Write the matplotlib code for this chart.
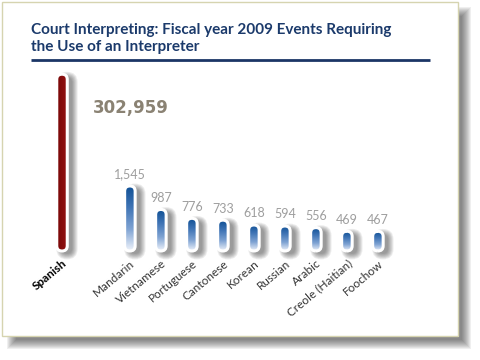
import numpy as np
import matplotlib.pyplot as plt
from matplotlib.patches import FancyBboxPatch, Rectangle
from matplotlib.colors import LinearSegmentedColormap

languages = ["Spanish", "Mandarin", "Vietnamese", "Portuguese", "Cantonese",
             "Korean", "Russian", "Arabic", "Creole (Haitian)", "Foochow"]
events = [302959, 1545, 987, 776, 733, 618, 594, 556, 469, 467]

# Spanish is way off the scale, its bar gets cut at this value
cap_value = 4200

plt.rcParams['font.family'] = ['Lato', 'DejaVu Sans']

W, H = 480, 360
fig = plt.figure(figsize=(4.8, 3.6), dpi=100)
fig.patch.set_facecolor('white')

# background layer in pixels: card, card shadow, title
bg = fig.add_axes([0, 0, 1, 1])
bg.set_xlim(0, W)
bg.set_ylim(H, 0)
bg.axis('off')

for e in range(-4, 6):
    bg.add_patch(Rectangle((12 - e, 12 - e), 454 + 2 * e, 332 + 2 * e,
                           fc='#2a2a2a', ec='none', alpha=0.075))
bg.add_patch(Rectangle((2, 2), 456, 334, fc='white', ec='#d6d4b0', lw=1))

bg.text(31, 23, "Court Interpreting: Fiscal year 2009 Events Requiring\nthe Use of an Interpreter",
        va='top', ha='left', fontsize=11, fontweight='bold', color='#1b3a6b',
        linespacing=1.3)
bg.plot([31, 430], [60, 60], color='#1b3566', lw=2, solid_capstyle='butt')

# chart axes
ax_box = [31, 70, 430, 251]  # left, top, right, bottom in px
ax = fig.add_axes([ax_box[0] / W, (H - ax_box[3]) / H,
                   (ax_box[2] - ax_box[0]) / W, (ax_box[3] - ax_box[1]) / H])
ax.patch.set_alpha(0)

gap = 2.19
xs = [0] + [gap + i for i in range(len(languages) - 1)]
shown = [min(v, cap_value) for v in events]

xlim = (-1, 11.87)
ylim = (0, 4300)
xu = (xlim[1] - xlim[0]) / (ax_box[2] - ax_box[0])   # x units per px
yu = (ylim[1] - ylim[0]) / (ax_box[3] - ax_box[1])   # y units per px
aspect = yu / xu
bw = 10.5 * xu

blue = LinearSegmentedColormap.from_list('b', ['#f0f4fb', '#7fa3d3', '#3f74b5', '#0d4e93'])
red = LinearSegmentedColormap.from_list('r', ['#7a0909', '#951212'])

for i, (x, v) in enumerate(zip(xs, shown)):
    # soft shadow to the lower right
    for k in range(7):
        g = k * 0.9
        sh = FancyBboxPatch((x - bw / 2 + (5 - g) * xu, -(3 + g) * yu),
                            bw + 2 * g * xu, v + 2 * g * yu,
                            boxstyle=f"round,pad=0,rounding_size={bw / 2 + g * xu}",
                            mutation_aspect=aspect, fc='#202020', ec='none',
                            alpha=0.08, clip_on=False, zorder=1)
        ax.add_patch(sh)

    bar = FancyBboxPatch((x - bw / 2, 0), bw, v,
                         boxstyle=f"round,pad=0,rounding_size={bw / 2}",
                         mutation_aspect=aspect, fc='none', ec='white', lw=2.2,
                         clip_on=False, zorder=4)
    ax.add_patch(bar)
    if i == 0:
        grad = np.linspace(0, 1, 64).reshape(1, -1)
        cmap = red
    else:
        grad = np.linspace(0, 1, 256).reshape(-1, 1)
        cmap = blue
    im = ax.imshow(grad, extent=[x - bw / 2, x + bw / 2, 0, v], origin='lower',
                   cmap=cmap, aspect='auto', zorder=3, interpolation='bilinear')
    im.set_clip_path(bar)

    if i == 0:
        ax.annotate(f"{events[i]:,}", (x, v), xytext=(22, -24), textcoords='offset points',
                    ha='left', va='center', fontsize=12, fontweight='bold',
                    color='#8a8273', family='DejaVu Sans')
    else:
        ax.annotate(f"{events[i]:,}", (x, v), xytext=(0, 4), textcoords='offset points',
                    ha='center', va='bottom', fontsize=9, color='#9e9e9e')

ax.set_xlim(*xlim)
ax.set_ylim(*ylim)
ax.set_xticks(xs, languages, rotation=40, ha='right', rotation_mode='anchor',
              fontsize=8.5, color='#333333')
ax.get_xticklabels()[0].set_fontweight('bold')
ax.get_xticklabels()[0].set_color('black')
ax.tick_params(length=0, pad=5)
ax.set_yticks([])
for s in ax.spines.values():
    s.set_visible(False)

fig.savefig('out.png', dpi=100, facecolor='white')
